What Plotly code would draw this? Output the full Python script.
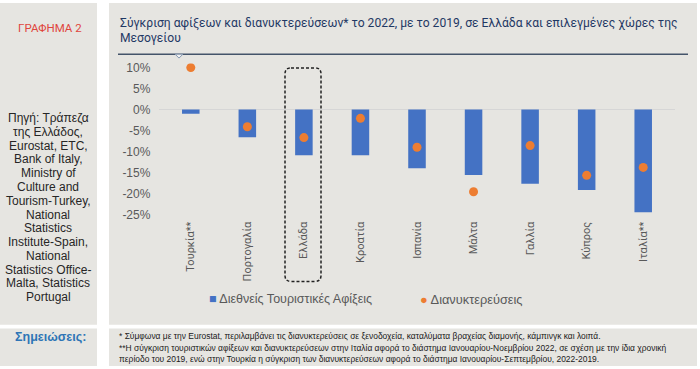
import plotly.graph_objects as go

W, H = 700, 369

categories = ["Τουρκία**", "Πορτογαλία", "Ελλάδα", "Κροατία", "Ισπανία",
              "Μάλτα", "Γαλλία", "Κύπρος", "Ιταλία**"]
arrivals = [-1.0, -6.6, -10.9, -10.9, -14.0, -15.6, -17.7, -19.2, -24.5]
overnights = [10.0, -4.1, -6.7, -2.1, -9.0, -19.6, -8.6, -15.7, -13.8]
y_ticks = [10, 5, 0, -5, -10, -15, -20, -25]
y_tick_labels = ["10%", "5%", "0%", "-5%", "-10%", "-15%", "-20%", "-25%"]

series_names = ["Διεθνείς Τουριστικές Αφίξεις", "Διανυκτερεύσεις"]
title_lines = ["Σύγκριση αφίξεων και διανυκτερεύσεων* το 2022, με το 2019, σε Ελλάδα και επιλεγμένες χώρες της",
               "Μεσογείου"]
source_lines = ["Πηγή: Τράπεζα", "της Ελλάδος,", "Eurostat, ETC,", "Bank of Italy,", "Ministry of",
                "Culture and", "Tourism-Turkey,", "National", "Statistics", "Institute-Spain,",
                "National", "Statistics Office-", "Malta, Statistics", "Portugal"]
note_lines = [
    "* Σύμφωνα με την Eurostat, περιλαμβάνει τις διανυκτερεύσεις σε ξενοδοχεία, καταλύματα βραχείας διαμονής, κάμπινγκ και λοιπά.",
    "**Η σύγκριση τουριστικών αφίξεων και διανυκτερεύσεων στην Ιταλία αφορά το διάστημα Ιανουαρίου-Νοεμβρίου 2022, σε σχέση με την ίδια χρονική",
    "περίοδο του 2019, ενώ στην Τουρκία η σύγκριση των διανυκτερεύσεων αφορά το διάστημα Ιανουαρίου-Σεπτεμβρίου, 2022-2019.",
]

BLUE = "#4472c4"
ORANGE = "#ed7d31"
PANEL = "#e6e5e1"
GRAY_TXT = "#595959"
FONT = "Liberation Sans, Arial, sans-serif"


def px(x):
    return x / W


def py(y):
    return 1 - y / H


fig = go.Figure()
fig.add_trace(go.Bar(x=categories, y=arrivals, name=series_names[0],
                     marker=dict(color=BLUE, line=dict(width=0)), width=0.31,
                     showlegend=False))
fig.add_trace(go.Scatter(x=categories, y=overnights, name=series_names[1], mode="markers",
                         marker=dict(color=ORANGE, size=9, line=dict(width=0)),
                         showlegend=False))

shapes = []
for (x0, y0, x1, y1) in [(0, 0, 97, 327), (109, 0, 697, 327), (0, 331, 97, 369), (109, 331, 697, 369)]:
    shapes.append(dict(type="rect", xref="paper", yref="paper", x0=px(x0), x1=px(x1),
                       y0=py(y1), y1=py(y0), fillcolor=PANEL, line=dict(width=0), layer="below"))
shapes.append(dict(type="line", xref="paper", yref="paper", x0=px(118), x1=px(688), y0=py(52), y1=py(52),
                   line=dict(color="#44546a", width=1.5)))
shapes.append(dict(type="path", xref="paper", yref="paper",
                   path=f"M{px(175)},{py(52)} L{px(179)},{py(56)} L{px(183)},{py(52)} Z",
                   fillcolor="#f2f2f2", line=dict(color="#8497b0", width=1)))


def rrect(x0, y0, x1, y1, r):
    p = [f"M{px(x0 + r)},{py(y0)}", f"L{px(x1 - r)},{py(y0)}",
         f"Q{px(x1)},{py(y0)} {px(x1)},{py(y0 + r)}", f"L{px(x1)},{py(y1 - r)}",
         f"Q{px(x1)},{py(y1)} {px(x1 - r)},{py(y1)}", f"L{px(x0 + r)},{py(y1)}",
         f"Q{px(x0)},{py(y1)} {px(x0)},{py(y1 - r)}", f"L{px(x0)},{py(y0 + r)}",
         f"Q{px(x0)},{py(y0)} {px(x0 + r)},{py(y0)} Z"]
    return " ".join(p)


shapes.append(dict(type="path", xref="paper", yref="paper", path=rrect(285, 66, 321, 283, 6),
                   line=dict(color="#222222", width=1.5, dash="3px,2px")))

ann = []


def add_text(x, y, text, anchor, font):
    ann.append(dict(x=px(x), y=py(y), xref="paper", yref="paper", text=text, showarrow=False,
                    xanchor=anchor, yanchor="middle", font=font))


add_text(50, 25.5, "ΓΡΑΦΗΜΑ 2", "center", dict(family="Roboto, sans-serif", size=11.5, color="#e0463d"))
for i, t in enumerate(title_lines):
    add_text(118, 20.5 + 15 * i, t, "left", dict(family="Roboto, sans-serif", size=12.1, color="#1f3864"))
for i, t in enumerate(source_lines):
    add_text(48, 117 + 14 * i, t, "center", dict(family=FONT, size=12, color="#262626"))
add_text(50, 340, "<b>Σημειώσεις:</b>", "center", dict(family=FONT, size=12.5, color="#2e75b6"))
for i, t in enumerate(note_lines):
    add_text(117, 339 + 11.3 * i, t, "left", dict(family=FONT, size=8.45, color="#1a1a1a"))
add_text(207, 301, f"<span style='color:{BLUE}'>■</span> {series_names[0]}", "left",
         dict(family=FONT, size=12.5, color=GRAY_TXT))
add_text(418, 301, f"<span style='color:{ORANGE}'>●</span> {series_names[1]}", "left",
         dict(family=FONT, size=12.8, color=GRAY_TXT))

fig.update_layout(
    width=W, height=H, autosize=False,
    margin=dict(l=0, r=0, t=0, b=0),
    paper_bgcolor="white", plot_bgcolor="rgba(0,0,0,0)",
    shapes=shapes, annotations=ann,
    bargap=0.69,
    xaxis=dict(domain=[px(159.4), px(674.6)], showgrid=False, showline=False, zeroline=False,
               tickangle=-90, ticks="", tickfont=dict(family="Roboto, sans-serif", size=11, color=GRAY_TXT),
               fixedrange=True),
    yaxis=dict(domain=[py(219.1), py(61.4)], range=[-26, 11], tickvals=y_ticks, ticktext=y_tick_labels,
               showgrid=False, showline=False, zeroline=True, zerolinecolor="#d6d6d6",
               zerolinewidth=1, ticks="", ticklabelstandoff=8,
               tickfont=dict(family=FONT, size=12, color=GRAY_TXT), fixedrange=True),
)

fig.write_html("out.html", config={"displayModeBar": False},
               post_script="document.body.style.margin='0';document.body.style.overflow='hidden';")
